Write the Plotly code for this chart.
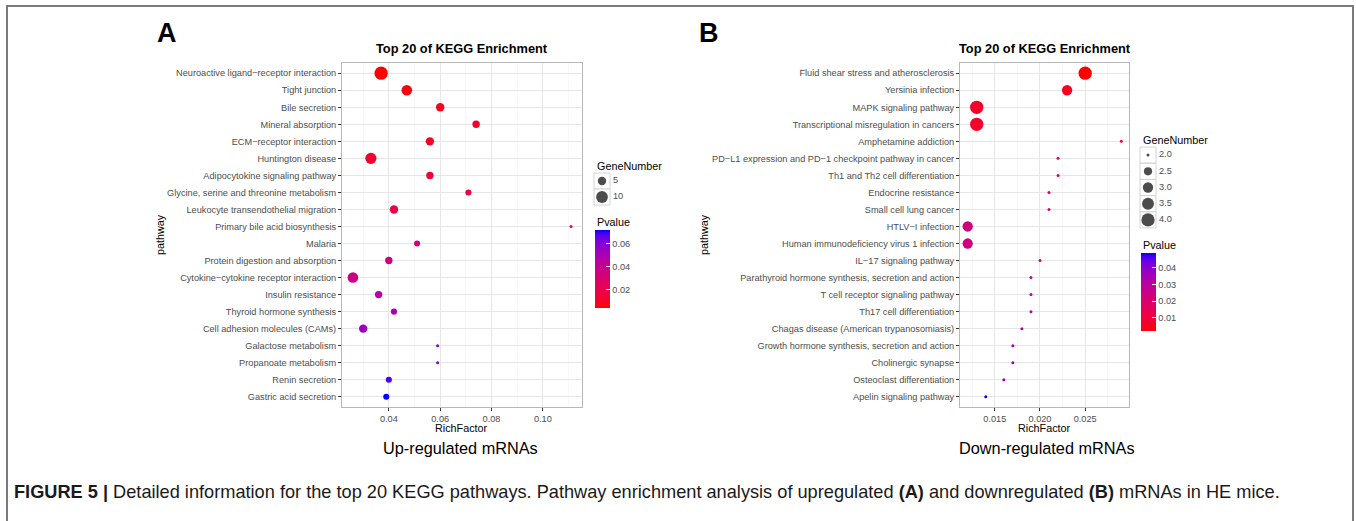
import numpy as np
import plotly.graph_objects as go

# ---------------- data ----------------
up_pathways = [
    "Neuroactive ligand\u2212receptor interaction", "Tight junction", "Bile secretion",
    "Mineral absorption", "ECM\u2212receptor interaction", "Huntington disease",
    "Adipocytokine signaling pathway", "Glycine, serine and threonine metabolism",
    "Leukocyte transendothelial migration", "Primary bile acid biosynthesis", "Malaria",
    "Protein digestion and absorption", "Cytokine\u2212cytokine receptor interaction",
    "Insulin resistance", "Thyroid hormone synthesis", "Cell adhesion molecules (CAMs)",
    "Galactose metabolism", "Propanoate metabolism", "Renin secretion", "Gastric acid secretion",
]
up_richfactor = [0.037, 0.047, 0.060, 0.074, 0.056, 0.033, 0.056, 0.071, 0.042, 0.111,
                 0.051, 0.040, 0.026, 0.036, 0.042, 0.030, 0.059, 0.059, 0.040, 0.039]
up_genenumber = [13, 8, 5, 4, 5, 9, 4, 3, 5, 2, 3, 4, 8, 4, 3, 5, 2, 2, 3, 3]
up_pvalue = [0.0043, 0.0064, 0.0085, 0.0105, 0.0112, 0.0125, 0.0145, 0.0165, 0.0180, 0.0215,
             0.0345, 0.0360, 0.0370, 0.0450, 0.0515, 0.0530, 0.0620, 0.0625, 0.0685, 0.0720]

down_pathways = [
    "Fluid shear stress and atherosclerosis", "Yersinia infection", "MAPK signaling pathway",
    "Transcriptional misregulation in cancers", "Amphetamine addiction",
    "PD\u2212L1 expression and PD\u22121 checkpoint pathway in cancer",
    "Th1 and Th2 cell differentiation", "Endocrine resistance", "Small cell lung cancer",
    "HTLV\u2212I infection", "Human immunodeficiency virus 1 infection",
    "IL\u221217 signaling pathway", "Parathyroid hormone synthesis, secretion and action",
    "T cell receptor signaling pathway", "Th17 cell differentiation",
    "Chagas disease (American trypanosomiasis)",
    "Growth hormone synthesis, secretion and action", "Cholinergic synapse",
    "Osteoclast differentiation", "Apelin signaling pathway",
]
down_richfactor = [0.025, 0.023, 0.013, 0.013, 0.029, 0.022, 0.022, 0.021, 0.021, 0.012,
                   0.012, 0.020, 0.019, 0.019, 0.019, 0.018, 0.017, 0.017, 0.016, 0.014]
down_genenumber = [4, 3, 4, 4, 2, 2, 2, 2, 2, 3, 3, 2, 2, 2, 2, 2, 2, 2, 2, 2]
down_pvalue = [0.0020, 0.0053, 0.0065, 0.0068, 0.0115, 0.0185, 0.0186, 0.0200, 0.0201, 0.0230,
               0.0232, 0.0265, 0.0290, 0.0291, 0.0293, 0.0315, 0.0350, 0.0352, 0.0395, 0.0490]

up_size_legend = [5, 10]
down_size_legend = [2.0, 2.5, 3.0, 3.5, 4.0]
up_p_ticks = [0.02, 0.04, 0.06]
down_p_ticks = [0.01, 0.02, 0.03, 0.04]
up_x_ticks = [0.04, 0.06, 0.08, 0.10]
down_x_ticks = [0.015, 0.020, 0.025]

# ---------------- helpers ----------------
W, H = 1356, 521
FONT = "Liberation Sans, Arial, Helvetica, sans-serif"
GREY30 = "#4D4D4D"


def fx(p):
    return p / W


def fy(p):
    return 1 - p / H


def srgb_to_lab(rgb):
    c = np.array(rgb, dtype=float) / 255.0
    lin = np.where(c <= 0.04045, c / 12.92, ((c + 0.055) / 1.055) ** 2.4)
    M = np.array([[0.4124, 0.3576, 0.1805], [0.2126, 0.7152, 0.0722], [0.0193, 0.1192, 0.9505]])
    X, Y, Z = M @ lin
    Xn, Yn, Zn = 0.95047, 1.0, 1.08883

    def f(t):
        return t ** (1 / 3) if t > (6 / 29) ** 3 else t / (3 * (6 / 29) ** 2) + 4 / 29
    return np.array([116 * f(Y / Yn) - 16, 500 * (f(X / Xn) - f(Y / Yn)), 200 * (f(Y / Yn) - f(Z / Zn))])


def lab_to_hex(lab):
    L, a, b = lab
    fy_ = (L + 16) / 116
    fx_ = fy_ + a / 500
    fz_ = fy_ - b / 200

    def finv(t):
        return t ** 3 if t > 6 / 29 else 3 * (6 / 29) ** 2 * (t - 4 / 29)
    X, Y, Z = 0.95047 * finv(fx_), 1.0 * finv(fy_), 1.08883 * finv(fz_)
    Mi = np.array([[3.2406, -1.5372, -0.4986], [-0.9689, 1.8758, 0.0415], [0.0557, -0.2040, 1.0570]])
    lin = Mi @ np.array([X, Y, Z])
    lin = np.clip(lin, 0, 1)
    c = np.where(lin <= 0.0031308, 12.92 * lin, 1.055 * lin ** (1 / 2.4) - 0.055)
    c = np.clip(np.round(c * 255), 0, 255).astype(int)
    return "#%02x%02x%02x" % tuple(c)


def lab_scale(low, high, n=21):
    l0, l1 = srgb_to_lab(low), srgb_to_lab(high)
    return [[i / (n - 1), lab_to_hex(l0 + (l1 - l0) * i / (n - 1))] for i in range(n)]


SCALE = lab_scale((255, 0, 0), (0, 0, 255))


def gg_size(v, vmin, vmax):
    r = (np.asarray(v, dtype=float) - vmin) / (vmax - vmin)
    return 3.0 + 10.3 * np.sqrt(np.clip(r, 0, None))


def expand(vals):
    lo, hi = min(vals), max(vals)
    d = (hi - lo) * 0.05
    return [lo - d, hi + d]


fig = go.Figure()

# ---------------- panels ----------------
panels = [
    dict(path=up_pathways, x=up_richfactor, g=up_genenumber, p=up_pvalue, xa="x", ya="y",
         cax="coloraxis", dom_x=(342, 582), ticks=up_x_ticks, fmt=".2f", minor=0.01),
    dict(path=down_pathways, x=down_richfactor, g=down_genenumber, p=down_pvalue, xa="x2", ya="y2",
         cax="coloraxis2", dom_x=(960, 1129), ticks=down_x_ticks, fmt=".3f", minor=0.0025),
]

for i, pn in enumerate(panels):
    gmin, gmax = min(pn["g"]), max(pn["g"])
    fig.add_trace(go.Scatter(
        x=pn["x"], y=pn["path"], mode="markers", xaxis=pn["xa"], yaxis=pn["ya"],
        marker=dict(size=gg_size(pn["g"], gmin, gmax), color=pn["p"], coloraxis=pn["cax"],
                    line=dict(width=0), opacity=1),
        showlegend=False, hoverinfo="x+y",
    ))
    sfx = "" if i == 0 else "2"
    n = len(pn["path"])
    fig.update_layout(**{
        "xaxis" + sfx: dict(
            domain=[fx(pn["dom_x"][0]), fx(pn["dom_x"][1])], range=expand(pn["x"]),
            anchor="y" + sfx, tickvals=pn["ticks"], tickformat=pn["fmt"],
            showgrid=True, gridcolor="#E6E6E6", gridwidth=1, zeroline=False,
            minor=dict(dtick=pn["minor"], tick0=0, showgrid=True, gridcolor="#F3F3F3", gridwidth=0.6),
            ticks="outside", ticklen=3, tickcolor="#333333", tickwidth=1,
            tickfont=dict(size=9.2, color=GREY30, family=FONT),
            showline=True, linecolor="#B8B8B8", linewidth=1, mirror=True,
        ),
        "yaxis" + sfx: dict(
            domain=[fy(407), fy(63)], type="category", categoryorder="array",
            categoryarray=pn["path"], range=[n - 1 + 0.6, -0.6], anchor="x" + sfx,
            showgrid=True, gridcolor="#E6E6E6", gridwidth=1, zeroline=False,
            ticks="outside", ticklen=3, tickcolor="#333333", tickwidth=1,
            tickfont=dict(size=9.2, color=GREY30, family=FONT),
            showline=True, linecolor="#B8B8B8", linewidth=1, mirror=True,
        ),
    })

# colour axes
fig.update_layout(
    coloraxis=dict(colorscale=SCALE, cmin=min(up_pvalue), cmax=max(up_pvalue),
                   colorbar=dict(x=fx(595), xanchor="left", y=fy(269), yanchor="middle",
                                 len=78, lenmode="pixels", thickness=15, thicknessmode="pixels",
                                 xpad=0, ypad=0, outlinewidth=0, tickvals=up_p_ticks,
                                 tickformat=".2f", ticks="inside", ticklen=4, tickcolor="white",
                                 tickfont=dict(size=9.2, color=GREY30, family=FONT))),
    coloraxis2=dict(colorscale=SCALE, cmin=min(down_pvalue), cmax=max(down_pvalue),
                    colorbar=dict(x=fx(1141), xanchor="left", y=fy(292), yanchor="middle",
                                  len=78, lenmode="pixels", thickness=15, thicknessmode="pixels",
                                  xpad=0, ypad=0, outlinewidth=0, tickvals=down_p_ticks,
                                  tickformat=".2f", ticks="inside", ticklen=4, tickcolor="white",
                                  tickfont=dict(size=9.2, color=GREY30, family=FONT))),
)

# ---------------- size legends ----------------
legends = [
    dict(vals=up_size_legend, g=up_genenumber, xa="x3", ya="y3", xdom=(594, 610), ydom=(173, 205),
         labels=[str(v) for v in up_size_legend]),
    dict(vals=down_size_legend, g=down_genenumber, xa="x4", ya="y4", xdom=(1140, 1156), ydom=(147, 228),
         labels=["%.1f" % v for v in down_size_legend]),
]
for j, lg in enumerate(legends):
    cats = lg["labels"]
    fig.add_trace(go.Scatter(
        x=[0] * len(cats), y=cats, mode="markers+text", xaxis=lg["xa"], yaxis=lg["ya"],
        marker=dict(symbol="square", size=16, color="white", line=dict(color="#D3D3D3", width=1)),
        text=cats, textposition="middle right",
        textfont=dict(size=9.2, color=GREY30, family=FONT),
        showlegend=False, hoverinfo="skip", cliponaxis=False,
    ))
    fig.add_trace(go.Scatter(
        x=[0] * len(cats), y=cats, mode="markers", xaxis=lg["xa"], yaxis=lg["ya"],
        marker=dict(size=gg_size(lg["vals"], min(lg["g"]), max(lg["g"])), color="black",
                    line=dict(width=0)),
        showlegend=False, hoverinfo="skip", cliponaxis=False,
    ))
    sfx = str(j + 3)
    fig.update_layout(**{
        "xaxis" + sfx: dict(domain=[fx(lg["xdom"][0]), fx(lg["xdom"][1])], range=[-1, 1],
                            anchor="y" + sfx, visible=False),
        "yaxis" + sfx: dict(domain=[fy(lg["ydom"][1]), fy(lg["ydom"][0])], type="category",
                            categoryorder="array", categoryarray=cats,
                            range=[len(cats) - 0.5, -0.5], anchor="x" + sfx, visible=False),
    })

# ---------------- text ----------------
ann = []


def add_text(text, x, y, size, xanchor="center", bold=False, color="black", angle=0, family=FONT):
    ann.append(dict(text=("<b>%s</b>" % text) if bold else text, x=fx(x), y=fy(y),
                    xref="paper", yref="paper", xanchor=xanchor, yanchor="middle",
                    showarrow=False, textangle=angle,
                    font=dict(size=size, color=color, family=family)))


add_text("A", 167, 33, 27, bold=True)
add_text("B", 709, 33, 27, bold=True)
add_text("Top 20 of KEGG Enrichment", 462, 49, 12.8, bold=True)
add_text("Top 20 of KEGG Enrichment", 1044.5, 49, 12.8, bold=True)
add_text("pathway", 160, 235, 10.8, angle=-90)
add_text("pathway", 704, 235, 10.8, angle=-90)
add_text("RichFactor", 462, 428, 10.8)
add_text("RichFactor", 1044.5, 428, 10.8)
add_text("Up-regulated mRNAs", 460, 448, 16.3)
add_text("Down-regulated mRNAs", 1047, 448, 16.3)
add_text("GeneNumber", 595, 166, 10.8, xanchor="left")
add_text("Pvalue", 595, 222, 10.8, xanchor="left")
add_text("GeneNumber", 1141, 140, 10.8, xanchor="left")
add_text("Pvalue", 1141, 245, 10.8, xanchor="left")
add_text("<b>FIGURE 5 |</b> Detailed information for the top 20 KEGG pathways. Pathway enrichment "
         "analysis of upregulated <b>(A)</b> and downregulated <b>(B)</b> mRNAs in HE mice.",
         12, 492, 18.2, xanchor="left", color="#1a1a1a")

fig.update_layout(
    annotations=ann,
    shapes=[dict(type="rect", xref="paper", yref="paper", x0=fx(7), x1=fx(1353), y0=-0.2, y1=fy(6),
                 line=dict(color="#7A7A7A", width=2), fillcolor="rgba(0,0,0,0)", layer="above")],
    width=W, height=H, autosize=False,
    margin=dict(l=0, r=0, t=0, b=0),
    paper_bgcolor="white", plot_bgcolor="white",
    font=dict(family=FONT, color="black"),
    showlegend=False,
)

fig.write_html("out.html", config={"staticPlot": True, "displayModeBar": False},
               post_script="document.body.style.margin='0px';document.body.style.overflow='hidden';")
